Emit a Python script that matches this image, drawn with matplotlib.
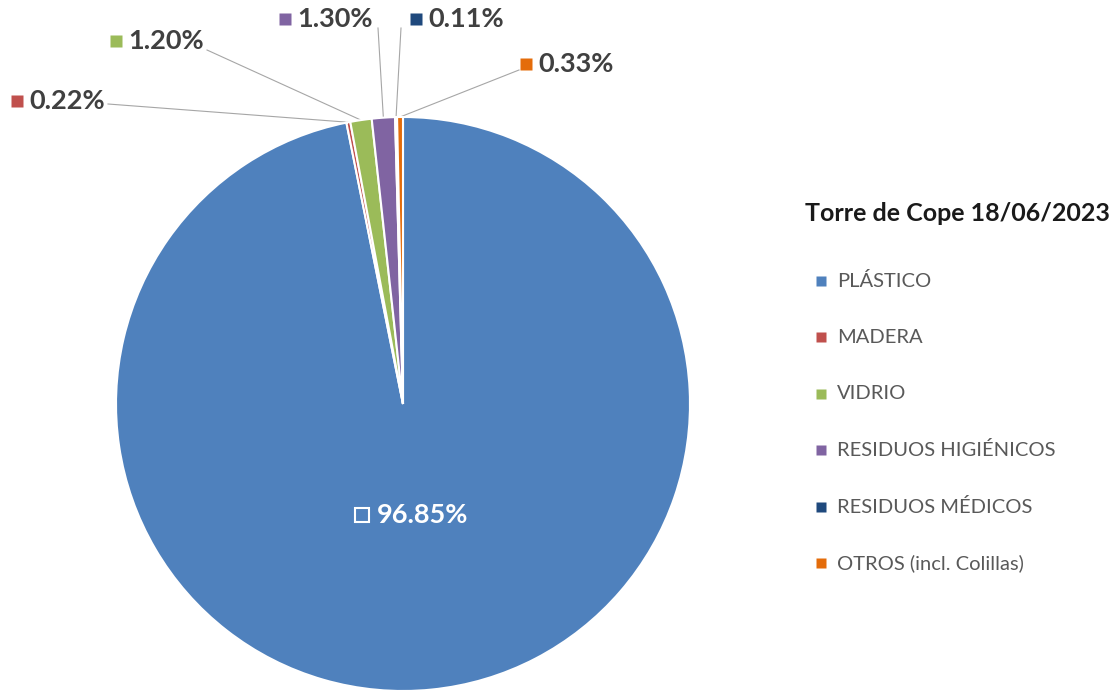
import numpy as np
import matplotlib.pyplot as plt

categories = ['PLÁSTICO', 'MADERA', 'VIDRIO', 'RESIDUOS HIGIÉNICOS',
              'RESIDUOS MÉDICOS', 'OTROS (incl. Colillas)']
values = [96.85, 0.22, 1.20, 1.30, 0.11, 0.33]
colors = ['#4F81BD', '#C0504D', '#9BBB59', '#8064A2', '#1F497D', '#E46C0A']
title = 'Torre de Cope 18/06/2023'

# pixel layout of the original picture
W, H = 1116, 690
CX, CY, R = 403, 404, 287


def px(x, y):
    return (x - CX) / R, (CY - y) / R


# label layout: marker centre, leader line start (pixels)
label_marker = [(362, 515), (17, 101), (116, 41), (285, 19), (416, 19), (526, 64)]
line_start = [None, (108, 104), (207, 50), (378, 28), (401, 28), (519, 70)]

plt.rcParams['font.family'] = ['Lato', 'DejaVu Sans']

fig = plt.figure(figsize=(W / 100, H / 100), dpi=100)
ax = fig.add_axes([0, 0, 1, 1])

wedges, _ = ax.pie(values, colors=colors, startangle=90, counterclock=False,
                   radius=1, wedgeprops=dict(edgecolor='white', linewidth=1.5))
ax.set_aspect('auto')
ax.set_xlim(-CX / R, (W - CX) / R)
ax.set_ylim(-(H - CY) / R, CY / R)
ax.axis('off')

for i, (w, v) in enumerate(zip(wedges, values)):
    mx, my = px(*label_marker[i])
    txt = f'{v:.2f}%'
    if i == 0:
        ax.plot(mx, my, marker='s', ms=10, mfc='none', mec='white', mew=1.5)
        ax.text(mx + 15 / R, my, txt, color='white', fontsize=19.5, fontweight='bold',
                va='center', ha='left')
        continue
    ax.plot(mx, my, marker='s', ms=8, color=colors[i], mec='none')
    ax.text(mx + 12 / R, my, txt, color='#404040', fontsize=19.5, fontweight='bold',
            va='center', ha='left')
    ang = np.deg2rad((w.theta1 + w.theta2) / 2)
    sx, sy = px(*line_start[i])
    ax.plot([sx, np.cos(ang)], [sy, np.sin(ang)], color='#A6A6A6', lw=0.8, zorder=0)

# legend drawn at the right
tx, ty = px(805, 213)
ax.text(tx, ty, title, fontsize=18, fontweight='bold', color='#1a1a1a',
        va='center', ha='left')
for i, cat in enumerate(categories):
    lx, ly = px(821, 281 + i * 56.4)
    ax.plot(lx, ly, marker='s', ms=6.5, color=colors[i], mec='none')
    ax.text(lx + 16 / R, ly, cat, fontsize=14.5, color='#595959', va='center', ha='left')

fig.savefig('out.png', dpi=100)
